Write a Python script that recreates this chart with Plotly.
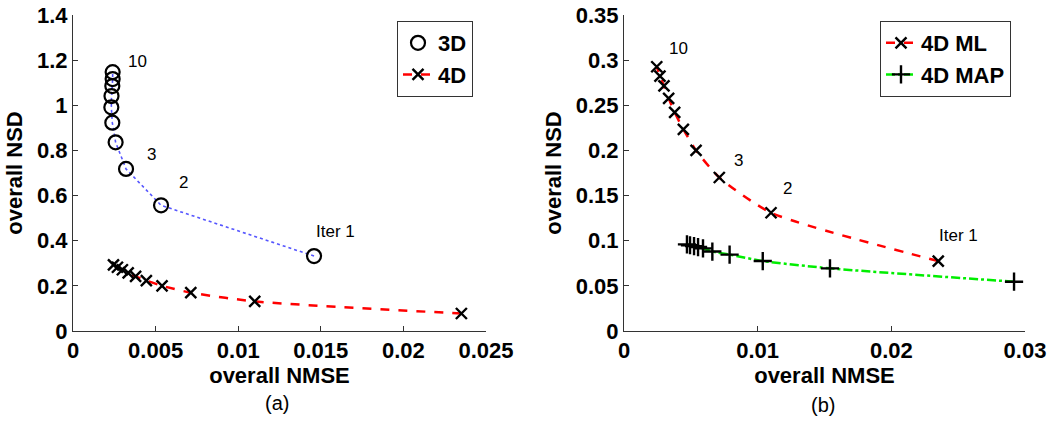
import plotly.graph_objects as go

# ---- data ----
iters = ["Iter 1", "2", "3", "4", "5", "6", "7", "8", "9", "10"]

nmse_3d = [0.01459, 0.00533, 0.00321, 0.00258, 0.00238, 0.00232, 0.00233, 0.00238, 0.00240, 0.00240]
nsd_3d = [0.332, 0.557, 0.718, 0.836, 0.923, 0.991, 1.041, 1.085, 1.116, 1.147]

nmse_ml = [0.02351, 0.01100, 0.00713, 0.00539, 0.00444, 0.00379, 0.00334, 0.00299, 0.00269, 0.00245]
nsd_ml = [0.0775, 0.131, 0.170, 0.200, 0.2234, 0.2422, 0.2577, 0.2714, 0.2824, 0.2927]

nmse_map = [0.02918, 0.01541, 0.01038, 0.00790, 0.00661, 0.00591, 0.00554, 0.00524, 0.00494, 0.00471]
nsd_map = [0.0546, 0.0694, 0.0775, 0.0846, 0.0880, 0.0915, 0.0930, 0.0940, 0.0950, 0.0960]

labels_a = {"10": (0.00327, 1.192), "3": (0.00442, 0.784), "2": (0.00636, 0.660), "Iter 1": (0.01465, 0.443)}
labels_b = {"10": (0.00329, 0.3134), "3": (0.00815, 0.1894), "2": (0.0118, 0.1573), "Iter 1": (0.02349, 0.1063)}

FONT = "Liberation Sans"

fig = go.Figure()

# left panel
fig.add_trace(go.Scatter(x=nmse_3d, y=nsd_3d, mode="lines", line=dict(color="#5555ff", width=1.6, dash="dot"),
                         showlegend=False, xaxis="x", yaxis="y", hoverinfo="skip"))
fig.add_trace(go.Scatter(x=nmse_3d, y=nsd_3d, mode="markers", name="3D",
                         marker=dict(symbol="circle-open", size=14, color="black", line=dict(width=2.2)),
                         xaxis="x", yaxis="y", legend="legend"))
fig.add_trace(go.Scatter(x=nmse_ml, y=nsd_ml, mode="lines+markers", name="4D",
                         line=dict(color="red", width=2.5, dash="dash", shape="spline", smoothing=0.6),
                         marker=dict(symbol="x-thin", size=11, color="black", line=dict(width=2.4, color="black")),
                         xaxis="x", yaxis="y", legend="legend"))

# right panel
fig.add_trace(go.Scatter(x=nmse_ml, y=nsd_ml, mode="lines+markers", name="4D ML",
                         line=dict(color="red", width=2.5, dash="dash", shape="spline", smoothing=0.6),
                         marker=dict(symbol="x-thin", size=11, color="black", line=dict(width=2.4, color="black")),
                         xaxis="x2", yaxis="y2", legend="legend2"))
fig.add_trace(go.Scatter(x=nmse_map, y=nsd_map, mode="lines+markers", name="4D MAP",
                         line=dict(color="#00ee00", width=2.5, dash="dashdot", shape="spline", smoothing=0.6),
                         marker=dict(symbol="cross-thin", size=13, color="black", line=dict(width=2.4, color="black")),
                         xaxis="x2", yaxis="y2", legend="legend2"))

ann = []
for t, (x, y) in labels_a.items():
    ann.append(dict(x=x, y=y, xref="x", yref="y", text=t, showarrow=False, xanchor="left", yanchor="middle",
                    borderpad=0, font=dict(family=FONT, size=17, color="black")))
for t, (x, y) in labels_b.items():
    ann.append(dict(x=x, y=y, xref="x2", yref="y2", text=t, showarrow=False, xanchor="left", yanchor="middle",
                    borderpad=0, font=dict(family=FONT, size=17, color="black")))
ann.append(dict(x=277/1050, y=1-403/424, xref="paper", yref="paper", text="(a)", showarrow=False,
                xanchor="center", yanchor="middle", font=dict(family=FONT, size=20, color="black")))
ann.append(dict(x=823/1050, y=1-405/424, xref="paper", yref="paper", text="(b)", showarrow=False,
                xanchor="center", yanchor="middle", font=dict(family=FONT, size=20, color="black")))

tickfont = dict(family=FONT, size=22, color="black", weight="bold")
titlefont = dict(family=FONT, size=22, color="black", weight="bold")

ydom = [1 - 331/424, 1 - 15/424]
axis_common = dict(showline=True, linecolor="#333333", linewidth=1, ticks="inside", ticklen=5,
                   tickcolor="#333333", showgrid=False, zeroline=False, tickfont=tickfont, automargin=False)

fig.update_layout(
    width=1050, height=424,
    margin=dict(l=0, r=0, t=0, b=0),
    plot_bgcolor="white", paper_bgcolor="white",
    font=dict(family=FONT, color="black"),
    xaxis=dict(domain=[73/1050, 486/1050], range=[0, 0.025], dtick=0.005, tick0=0, anchor="y",
               title=dict(text="overall NMSE", font=titlefont, standoff=4), **axis_common),
    yaxis=dict(domain=ydom, range=[0, 1.4], dtick=0.2, tick0=0, anchor="x",
               title=dict(text="overall NSD", font=titlefont, standoff=8), **axis_common),
    xaxis2=dict(domain=[624/1050, 1025/1050], range=[0, 0.03], dtick=0.01, tick0=0, anchor="y2",
                title=dict(text="overall NMSE", font=titlefont, standoff=4), **axis_common),
    yaxis2=dict(domain=ydom, range=[0, 0.35], dtick=0.05, tick0=0, anchor="x2",
                title=dict(text="overall NSD", font=titlefont, standoff=8), **axis_common),
    legend=dict(x=397/1050, y=1-21/424, xanchor="left", yanchor="top", bgcolor="white",
                bordercolor="#333333", borderwidth=1, font=dict(family=FONT, size=22, color="black", weight="bold"),
                tracegroupgap=0, itemwidth=30),
    legend2=dict(x=880/1050, y=1-21/424, xanchor="left", yanchor="top", bgcolor="white",
                 bordercolor="#333333", borderwidth=1, font=dict(family=FONT, size=22, color="black", weight="bold"),
                 tracegroupgap=0, itemwidth=30),
    annotations=ann,
    showlegend=True,
)

fig.write_html("out.html", config={"displayModeBar": False},
               post_script="document.body.style.margin='0';document.body.style.overflow='hidden';")
